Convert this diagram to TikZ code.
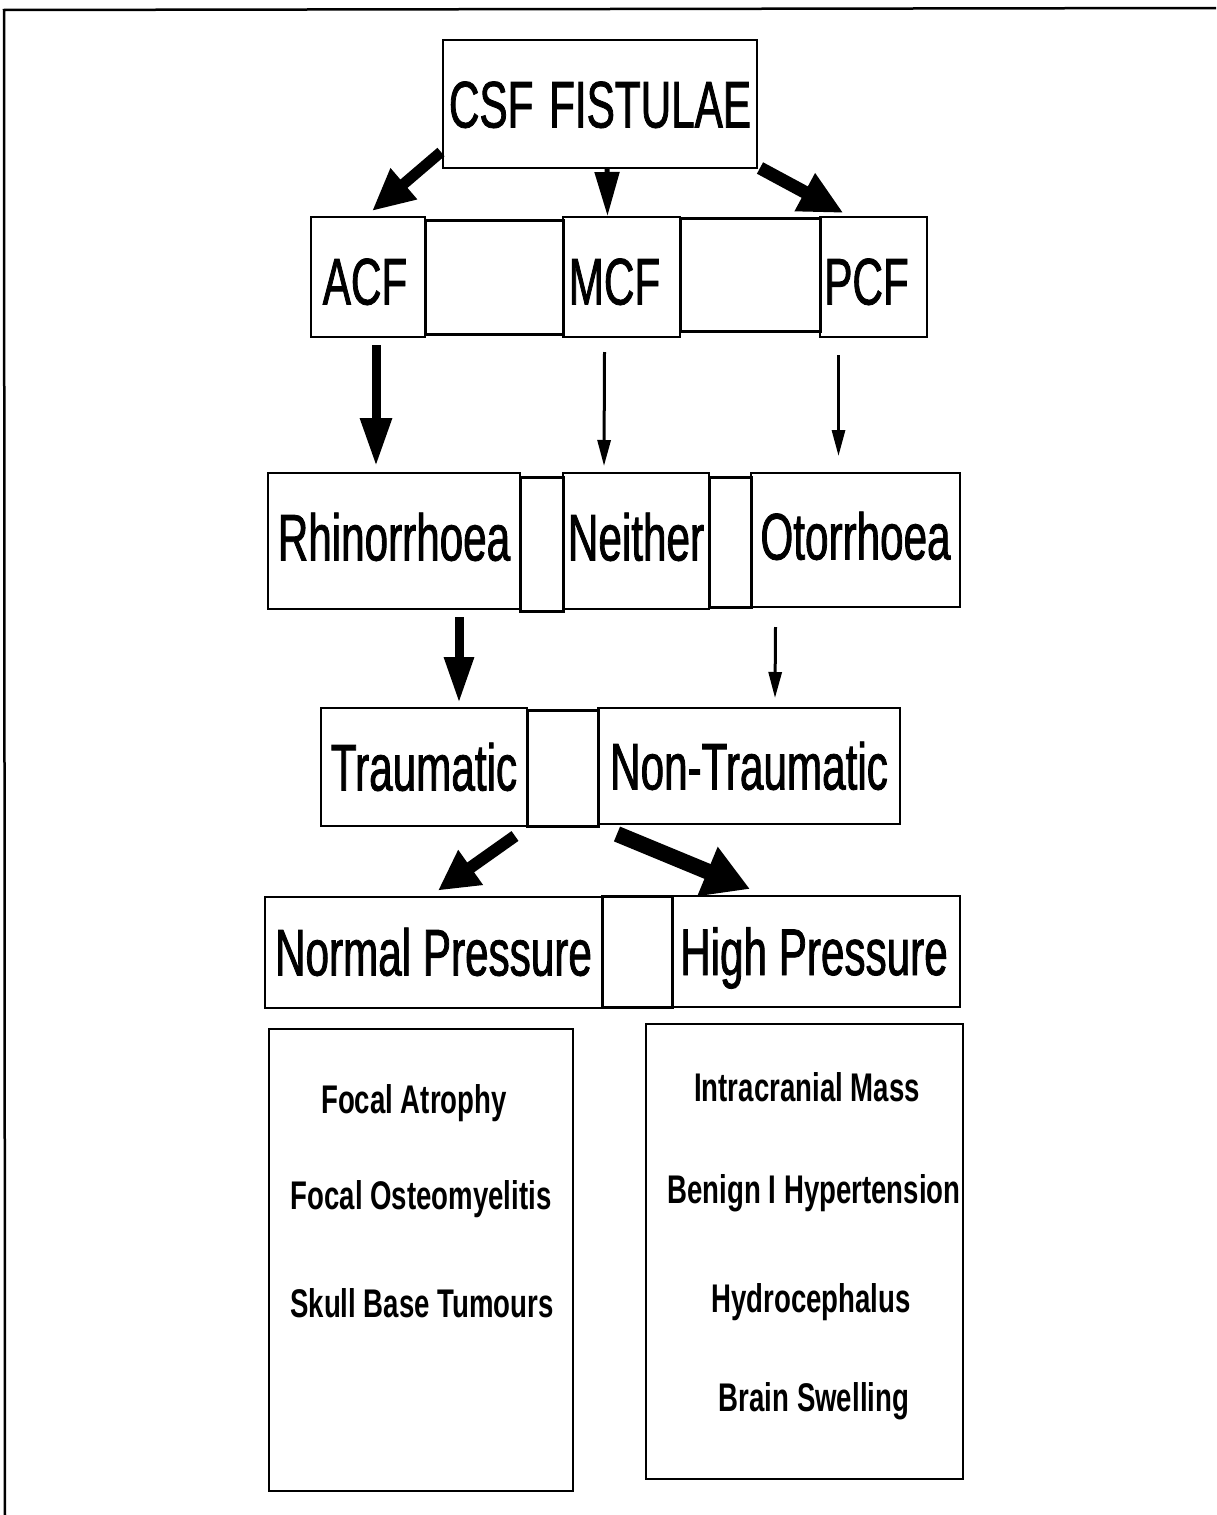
\documentclass[tikz,border=0pt]{standalone}
\usepackage{fontspec}
\setmainfont{Liberation Sans}
\newfontfamily\bigfont{Liberation Sans}[FakeStretch=0.64,FakeBold=1.2]
\newfontfamily\smfont{Liberation Sans}[FakeStretch=0.69]
\usetikzlibrary{arrows.meta,calc}
\begin{document}
\begin{tikzpicture}[x=1pt,y=-1pt,
  box/.style={draw, line width=2pt, inner sep=0pt, outer sep=0pt, text height=47pt, text depth=0pt, font=\bigfont\fontsize{66}{70}\selectfont},
  gapbox/.style={draw, line width=3pt, inner sep=0pt, outer sep=0pt},
  listbox/.style={draw, line width=2.5pt, inner sep=0pt, outer sep=0pt},
  smtxt/.style={inner sep=0pt, anchor=base, font=\smfont\bfseries\fontsize{40}{44}\selectfont},
]
\useasboundingbox (0,0) rectangle (1216,1515);
\fill[white] (0,0) rectangle (1216,1515);
% frame
\coordinate (ftl) at (4,10);
\coordinate (ftr) at (1216,8);
\coordinate (fbl) at (5,1515);
\draw[line width=2.5pt] (ftr) -- (ftl) -- (fbl);

% level 0
\node[box, minimum width=314pt, minimum height=128pt] (csf) at (600,104) {CSF\hspace{4pt} FISTULAE};

% level 1
\node[box, text height=55pt, minimum width=114pt, minimum height=120pt] (acf) at (368,277) {ACF\hspace*{6pt}};
\node[box, text height=55pt, minimum width=117pt, minimum height=120pt] (mcf) at (621.5,277) {MCF\hspace*{14pt}};
\node[box, text height=55pt, minimum width=107pt, minimum height=120pt] (pcf) at (873.5,277) {PCF\hspace*{14pt}};
\node[gapbox, minimum width=138pt, minimum height=114pt] (g1) at (494,277) {};
\node[gapbox, minimum width=140pt, minimum height=113pt] (g2) at (750,274.5) {};

% level 2
\node[box, text height=39pt, minimum width=252pt, minimum height=136pt] (rhino) at (394,541) {Rhinorrhoea};
\node[box, text height=39pt, minimum width=146pt, minimum height=136pt] (neither) at (636,541) {Neither};
\node[box, text height=39pt, minimum width=209pt, minimum height=134pt] (oto) at (855.5,540) {Otorrhoea};
\node[gapbox, minimum width=43pt, minimum height=134pt] (g3) at (541.5,544) {};
\node[gapbox, minimum width=42pt, minimum height=130pt] (g4) at (730,542) {};

% level 3
\node[box, minimum width=206pt, minimum height=118pt] (traum) at (424,767) {Traumatic};
\node[box, minimum width=302pt, minimum height=116pt] (nontraum) at (749,766) {Non-Traumatic};
\node[gapbox, minimum width=71pt, minimum height=116pt] (g5) at (562.5,768) {};

% level 4
\node[box, minimum width=337pt, minimum height=111pt] (normal) at (433.5,952) {Normal Pressure};
\node[box, minimum width=288pt, minimum height=111pt] (high) at (816,951.5) {High Pressure\hspace*{4pt}};
\node[gapbox, minimum width=70pt, minimum height=111pt] (g6) at (637,951.5) {};

% lists
\node[listbox, minimum width=304pt, minimum height=462pt] (lbox) at (421,1260) {};
\node[listbox, minimum width=317pt, minimum height=455pt] (rbox) at (804.5,1251.5) {};
\node[smtxt] (l1) at (414,1113) {Focal Atrophy};
\node[smtxt] (l2) at (421,1209) {Focal Osteomyelitis};
\node[smtxt] (l3) at (422,1317) {Skull Base Tumours};
\node[smtxt] (r1) at (807,1101) {Intracranial Mass};
\node[smtxt] (r2) at (814,1203) {Benign I Hypertension};
\node[smtxt] (r3) at (811,1312) {Hydrocephalus};
\node[smtxt] (r4) at (814,1411) {Brain Swelling};

% arrows
\draw[line width=11pt, -{Triangle[length=42pt,width=38pt]}] ($(csf.south west)+(-2,-16)$) -- ($(acf.north)+(4,-6)$);
\draw[line width=5pt, -{Triangle[length=44pt,width=24pt]}] ($(csf.south)+(7,0)$) -- ($(mcf.north)+(-14,-1)$);
\draw[line width=13pt, -{Triangle[length=44pt,width=40pt]}] ($(csf.south east)+(3,0)$) -- ($(pcf.north)+(-30,-4)$);
\draw[line width=9pt, -{Triangle[length=48pt,width=30pt]}] ($(acf.south)+(8,8)$) -- ($(rhino.north)+(-18,-7)$);
\draw[line width=3pt, -{Triangle[length=26pt,width=13pt]}] ($(mcf.south)+(-17,15)$) -- ($(neither.north)+(-32,-7)$);
\draw[line width=3pt, -{Triangle[length=26pt,width=13pt]}] ($(pcf.south)+(-35,18)$) -- ($(oto.north)+(-17,-17)$);
\draw[line width=9pt, -{Triangle[length=46pt,width=28pt]}] ($(rhino.south)+(65,8)$) -- ($(traum.north)+(35,-5)$);
\draw[line width=3pt, -{Triangle[length=26pt,width=13pt]}] ($(oto.south)+(-80,20)$) -- ($(nontraum.north)+(26,-10)$);
\draw[line width=12pt, -{Triangle[length=40pt,width=40pt]}] ($(traum.south)+(91,10)$) -- ($(normal.north)+(4.5,-6)$);
\draw[line width=16pt, -{Triangle[length=46pt,width=50pt]}] ($(nontraum.south)+(-132,10)$) -- ($(high.north)+(-66,-7)$);
\end{tikzpicture}
\end{document}
